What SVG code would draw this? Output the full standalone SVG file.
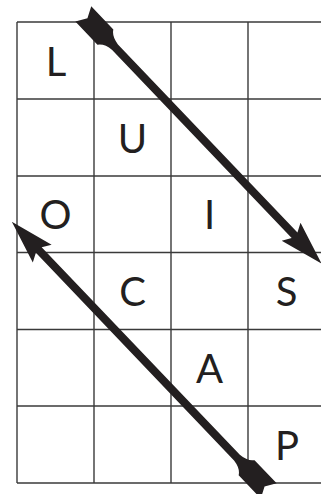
<svg xmlns="http://www.w3.org/2000/svg" width="321" height="494" viewBox="0 0 321 494">
<style>
.grid{stroke:#3a3a3a;stroke-width:1.4;fill:none}
.ltr{font-family:Lato,"Open Sans",sans-serif;font-size:40px;fill:#231f20;text-anchor:middle}
.arr{fill:#231f20}
</style>
<rect width="321" height="494" fill="#fff"/>
<g id="grid" class="grid">
<line x1="17" y1="22" x2="17" y2="483"/>
<line x1="94" y1="22" x2="94" y2="483"/>
<line x1="171" y1="22" x2="171" y2="483"/>
<line x1="248" y1="22" x2="248" y2="483"/>
<line x1="17" y1="22" x2="321" y2="22"/>
<line x1="17" y1="99" x2="321" y2="99"/>
<line x1="17" y1="176" x2="321" y2="176"/>
<line x1="17" y1="252.5" x2="321" y2="252.5"/>
<line x1="17" y1="329.5" x2="321" y2="329.5"/>
<line x1="17" y1="406" x2="321" y2="406"/>
<line x1="17" y1="483" x2="321" y2="483"/>
</g>
<g id="letters">
<g id="L"><text class="ltr" x="56" y="76">L</text></g>
<g id="U"><text class="ltr" x="132.5" y="152.5">U</text></g>
<g id="O"><text class="ltr" x="55.5" y="229">O</text></g>
<g id="I"><text class="ltr" x="209.5" y="229">I</text></g>
<g id="C"><text class="ltr" x="132.5" y="306">C</text></g>
<g id="S"><text class="ltr" x="286.5" y="306">S</text></g>
<g id="A"><text class="ltr" x="209.5" y="383">A</text></g>
<g id="P"><text class="ltr" x="287" y="460">P</text></g>
</g>
<g id="connectors" class="arr">
<path transform="translate(83.3,13.9) rotate(46.34)" d="M6,0 L0,-11 L32,-11 Q36,-5 46,-4 L306,-4 L301,-13 L345,0 L301,13 L306,4 L46,4 Q36,5 32,11 L0,11 Z"/>
<path transform="translate(268.7,490.9) rotate(226.33)" d="M6,0 L0,-11 L32,-11 Q36,-5 46,-4 L333,-4 L328,-13 L372,0 L328,13 L333,4 L46,4 Q36,5 32,11 L0,11 Z"/>
</g>
</svg>
